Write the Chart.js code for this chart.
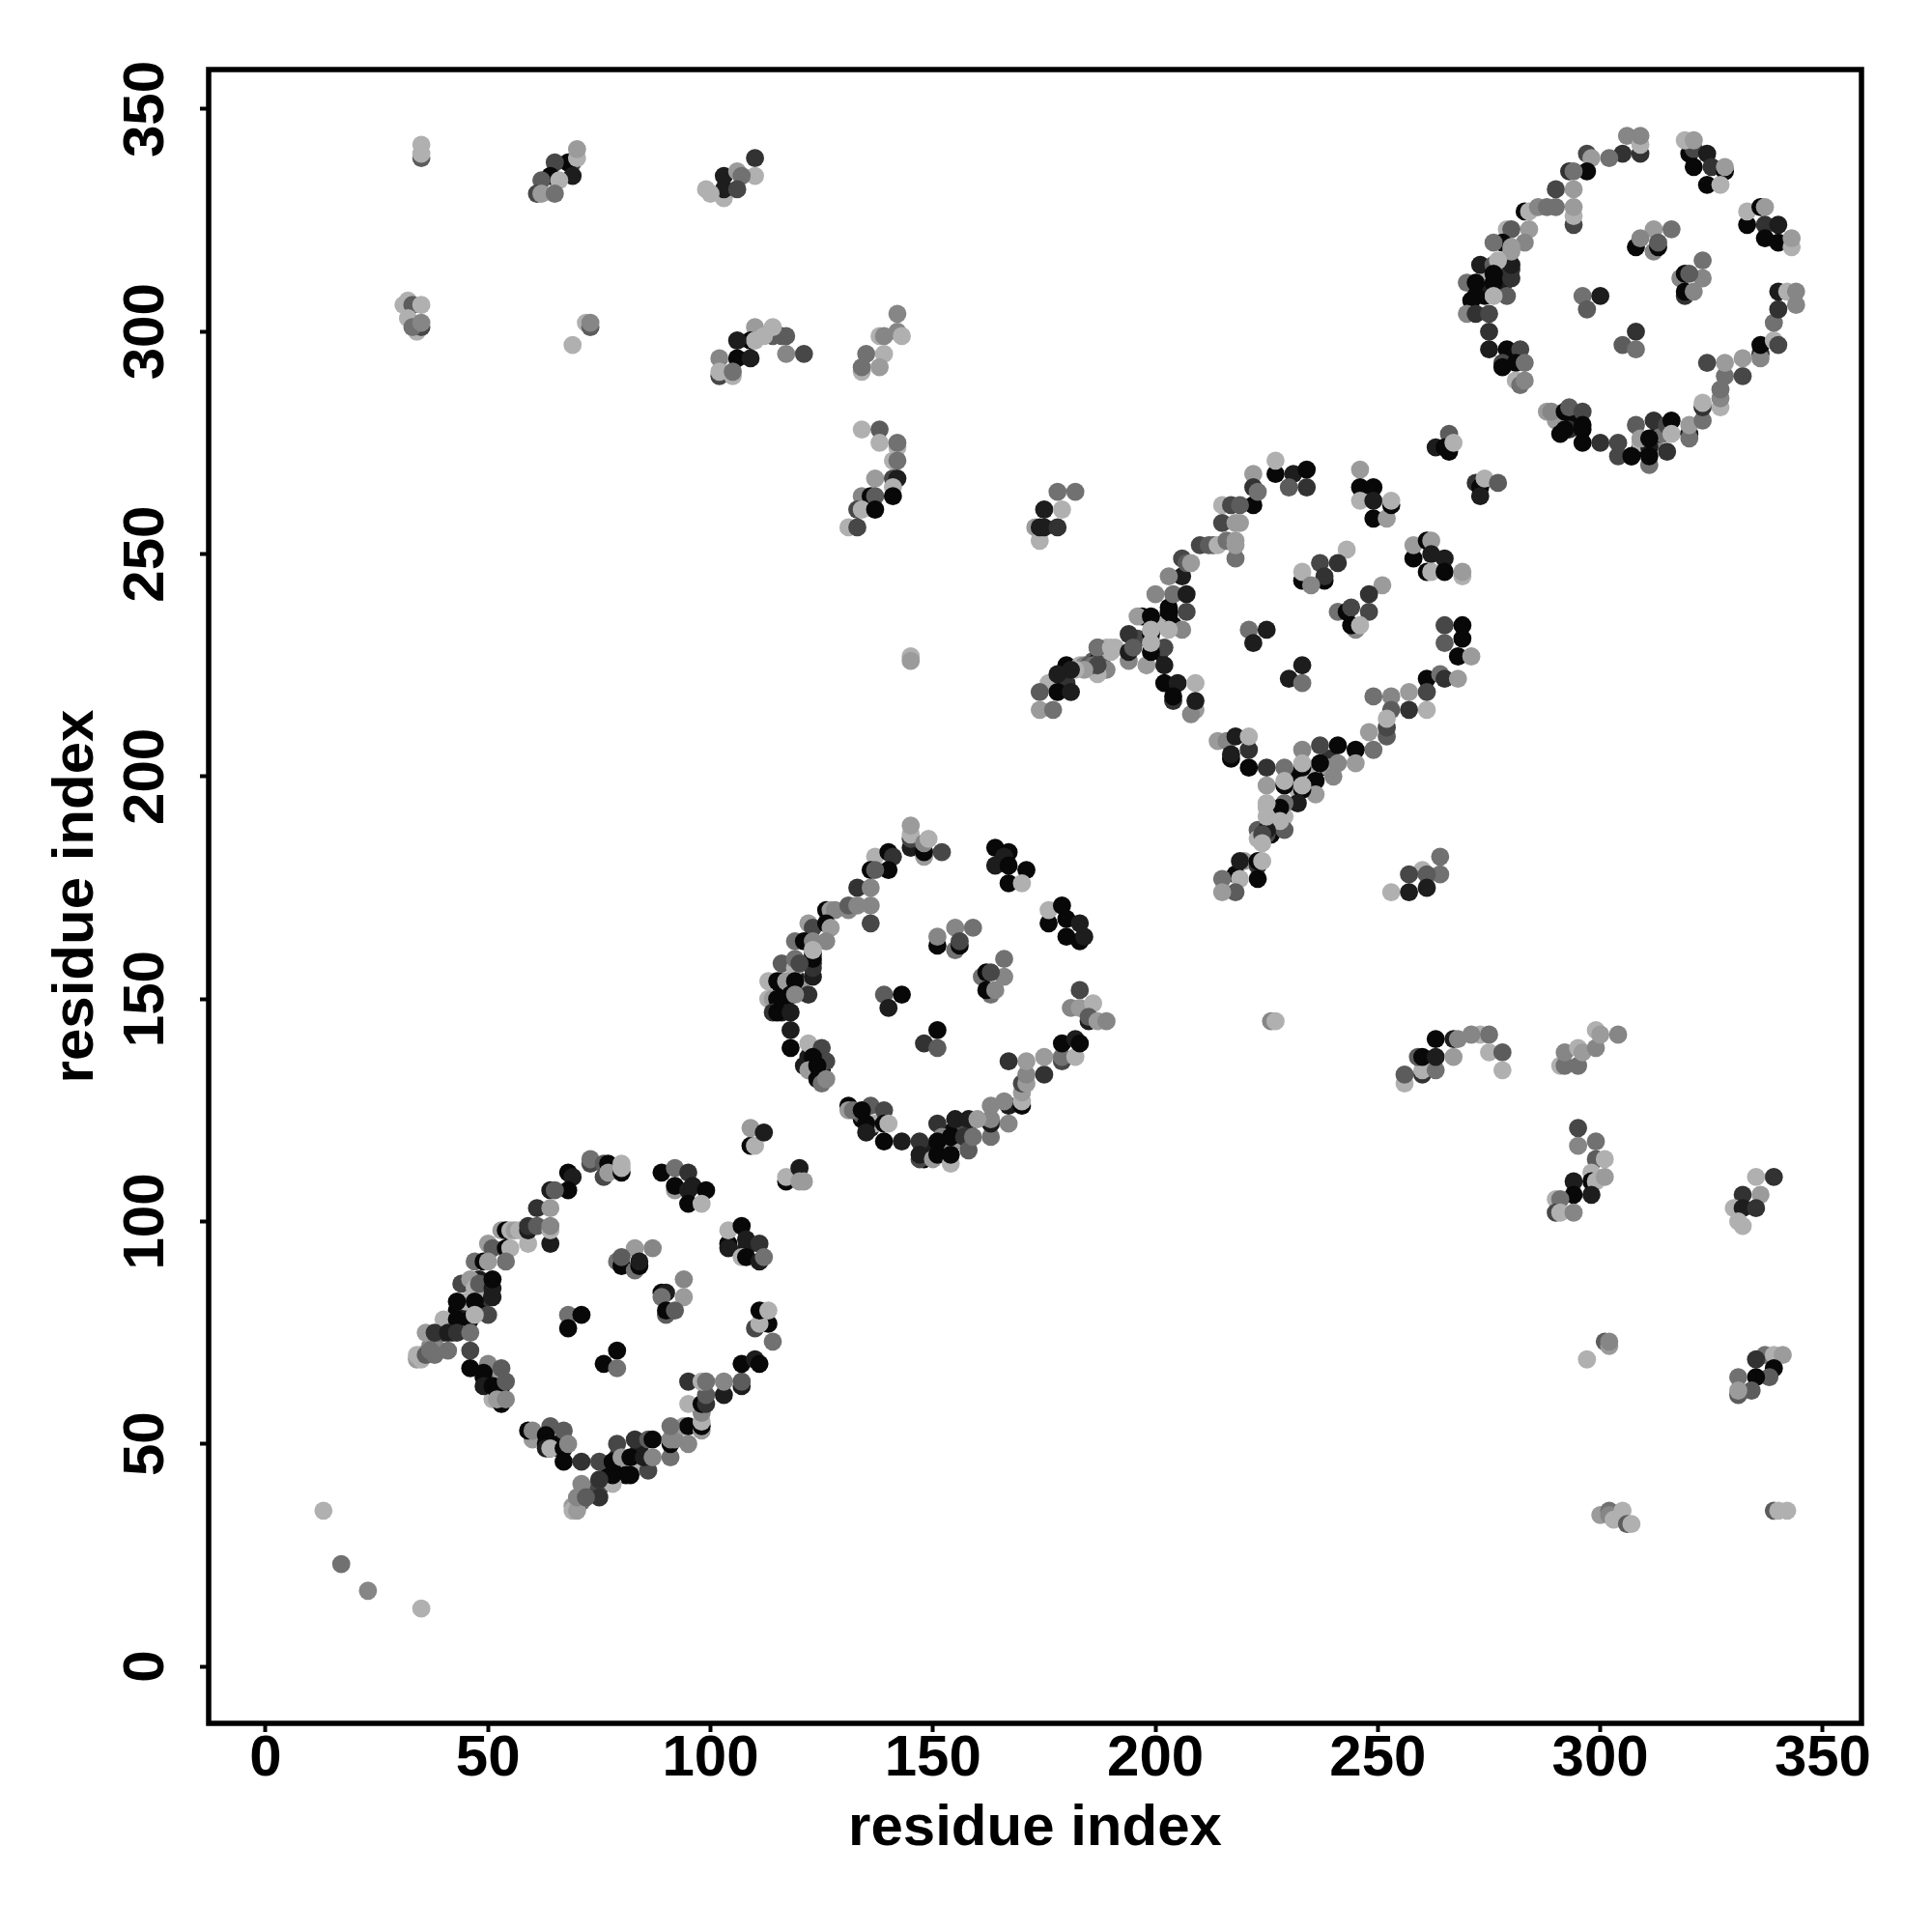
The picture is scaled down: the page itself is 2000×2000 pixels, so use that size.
<!DOCTYPE html>
<html><head><meta charset="utf-8">
<style>html,body{margin:0;padding:0;background:#fff}canvas{display:block}</style>
<script src="https://cdn.jsdelivr.net/npm/chart.js@4/dist/chart.umd.min.js"></script>
</head><body><canvas id="c" width="2000" height="2000"></canvas>
<script>
// Each contact: [residue x, residue y, shade score 0 (darkest) .. 9 (lightest)]
const tickValues=[0,50,100,150,200,250,300,350];
const axisTitle="residue index";
const corner=[[13,35,8],[17,23,5],[23,17,6],[35,13,8],[145,227,8],[145,226,7],[226,145,6],[227,145,8]];
// partly hidden contacts, drawn first
const under1=[[43,80,0],[45,80,1],[48,82,0],[50,83,2],[48,84,1],[47,84,8],[48,87,1],[50,86,2],[42,75,3],[40,75,2],[37,72,6],[38,72,5],[35,70,6],[39,71,6],[34,69,7],
[49,65,0],[50,63,1],[52,65,7],[51,60,8],[51,63,2],[61,52,3],[60,51,7],[64,49,1],[66,49,2],[66,50,0],
[79,47,2],[77,45,0],[80,45,7],[82,45,8],[84,49,1],[85,46,0],[84,45,8],[78,44,0],[81,43,0],[74,40,4],[71,37,5],[70,36,4],[69,36,7],[75,40,3]];
const under2=[[116,154,1],[117,152,7],[116,152,0],[113,150,8],[119,155,1],[120,153,7],[117,150,0],[123,160,1],[123,158,2],[116,147,1],
[122,137,1],[123,134,8],[125,134,0],[134,123,0],[136,121,1],[137,122,8],[134,124,4],
[149,115,0],[150,117,8],[153,119,2],[153,117,7],[155,118,7],[158,120,4],[154,120,0],[150,116,1],[148,114,0],[163,123,7]];
const under3=[[197,236,0],[203,238,0],[203,236,1],[201,234,8],[204,234,0],[199,231,8],[196,231,3],[201,228,1],
[176,221,8],[180,225,0],[180,221,2],[183,225,8],[184,225,6],[185,225,4],[186,226,4],[187,226,1],[188,225,4],[189,229,8],[190,228,8],[189,224,6],[187,229,5],[191,229,8],[187,223,8],
[223,188,4],[223,186,8],[226,190,7],[225,193,8],[227,190,8],[229,191,8],[226,187,0],[225,187,3],[220,181,7],[218,178,0],[223,180,2],
[232,200,0],[234,201,7],[237,202,0],[235,201,8],[231,199,0],[232,197,8],[234,198,8],[239,204,2],[239,202,7]];
const under4=[[271,307,0],[274,308,0],[274,311,1],[277,314,3],[279,312,1],[274,313,8],[278,310,1],
[309,274,0],[307,272,0],[309,275,8],[312,275,6],[313,277,1],[311,274,1],[314,277,5],
[293,281,0],[293,278,2],[290,280,7],[291,277,0],[296,278,0]];
const block1=[
[109,117,0],[110,117,8],[109,121,7],[112,120,1],[117,109,0],[117,110,8],[120,112,1],[120,109,7],[121,109,7],
[73,113,3],[73,114,5],[76,113,4],[76,110,3],[77,113,0],[77,111,7],[80,111,0],[80,113,8],[80,112,8],
[68,111,0],[69,110,1],[68,107,0],[64,107,1],[65,107,4],[61,103,2],[64,103,7],
[53,98,7],[54,98,0],[55,98,8],[56,98,7],[57,98,8],[59,95,8],[59,98,1],[59,99,2],[61,99,4],[64,95,1],[64,98,8],[64,99,6],
[50,95,7],[51,94,4],[54,94,0],[55,94,8],[47,91,5],[49,91,0],[54,91,5],[50,91,7],
[44,86,3],[46,87,7],[47,85,8],[48,86,4],[51,83,1],[51,85,1],[51,87,0],[50,79,3],
[45,82,8],[43,82,0],[47,82,0],[40,78,8],[43,78,0],[46,78,0],[47,79,8],
[36,75,7],[38,75,2],[41,75,1],[43,75,2],[46,75,5],[34,70,8],[35,69,8],[36,70,4],[37,71,5],[38,70,5],[41,71,5],
[46,71,3],[46,67,0],[50,68,6],[53,67,4],[49,66,0],[49,63,1],[51,63,0],[53,63,0],[54,64,4],[53,59,0],[52,60,7],[54,60,6],
[59,53,0],[60,53,6],[64,54,4],[67,53,4],[63,52,0],[63,50,0],[63,49,1],[64,49,8],[67,49,0],[68,50,6],[67,46,0],[71,46,2],[75,46,3],
[79,50,3],[83,51,2],[86,51,4],[87,51,0],[78,41,8],[78,43,0],[78,46,0],[82,43,0],[80,47,7],[82,47,0],[86,44,3],[85,47,1],[87,47,6],
[75,42,2],[75,38,2],[69,35,8],[70,35,7],[70,38,6],[71,41,6],[72,38,4],
[91,47,5],[91,50,0],[91,51,6],[95,50,6],[92,51,6],[94,54,7],[95,54,0],[91,54,5],
[98,53,7],[98,54,0],[98,55,8],[98,57,6],[95,59,8],[98,59,0],[99,59,2],[103,61,1],[99,61,4],[95,64,2],[98,64,8],[99,64,5],[103,64,6],[107,63,1],[107,64,4],
[107,68,0],[110,69,1],[111,68,0],[114,73,5],[113,77,0],[110,76,3],[111,77,8],[111,80,0],[113,80,8],
[83,94,7],[87,94,6],[79,91,5],[80,90,0],[80,92,4],[83,89,5],[84,90,0],[84,91,1],
[94,87,6],[94,83,7],[89,84,0],[90,84,1],[89,83,5],[90,79,4],[90,80,0],[92,80,4],
[68,79,5],[71,79,0],[68,76,0],[79,71,0],[76,68,0],[79,67,5],
[104,95,0],[104,94,1],[104,98,8],[107,99,0],[108,96,1],[108,94,1],[111,95,2],[107,92,8],[108,92,0],[111,91,1],[112,92,5],
[89,111,0],[92,112,5],[95,111,2],[92,107,7],[92,108,0],[95,107,1],[96,108,1],[99,107,0],[95,104,0],[98,104,8]];
const block2=[
[145,184,1],[145,186,3],[145,187,8],[145,189,7],[148,182,7],[148,183,0],[148,185,6],[149,186,8],[152,183,3],
[137,182,8],[140,183,0],[141,182,2],[140,179,0],[136,179,0],[137,179,4],[133,175,2],[136,175,6],[136,171,6],[136,167,3],
[126,170,0],[127,170,7],[128,170,6],[131,170,6],[131,171,4],[133,171,6],
[122,167,7],[123,166,3],[126,167,0],[127,166,7],[119,163,5],[121,163,0],[123,163,6],[126,163,6],
[123,155,1],[123,157,2],[123,159,0],[123,161,8],[122,151,2],[116,158,4],[119,157,8],[119,159,5],[120,158,3],
[113,154,8],[115,154,0],[117,154,7],[119,154,0],[114,150,7],[115,150,0],[118,151,0],[119,151,6],[114,147,2],[115,147,0],[118,147,1],
[118,143,1],[118,139,0],[122,140,8],[125,139,3],[126,136,3],[121,135,1],[123,137,0],[122,134,7],[124,135,0],[124,132,0],[125,131,5],[126,132,6],
[131,126,0],[131,125,7],[132,125,5],[136,126,4],[139,125,3],[134,125,0],[135,122,0],[135,120,1],[139,122,0],[140,122,8],[139,118,0],[143,118,1],[147,118,2],
[151,122,2],[157,122,3],[155,123,1],[158,123,1],[147,114,3],[147,115,1],[150,114,7],[152,119,6],[151,118,0],[151,115,0],[154,113,8],[154,115,0],[154,119,0],[157,119,2],[158,116,4],[159,119,5],
[163,119,5],[163,122,1],[163,123,6],[167,122,6],[160,123,7],[163,126,6],[167,126,1],[166,127,6],
[170,126,0],[170,127,8],[170,129,7],[170,131,3],[171,131,7],[171,133,6],[171,136,7],[175,133,2],[175,137,7],[167,136,2],
[179,136,3],[179,137,5],[182,137,8],[179,140,0],[182,141,1],[183,140,0],
[183,152,3],[181,148,6],[183,148,7],[186,149,8],[185,145,1],[185,146,4],[187,145,7],[189,145,6],
[164,184,0],[167,183,0],[166,182,1],[164,180,1],[167,180,0],[171,179,0],[167,176,0],[170,176,8],
[176,167,0],[176,170,8],[179,171,0],[180,168,0],[183,167,1],[180,164,0],[183,163,0],[184,164,1],
[155,166,6],[159,166,5],[151,162,0],[151,164,6],[155,161,5],[156,162,0],[156,163,3],
[166,159,5],[166,155,6],[161,155,5],[162,156,0],[163,156,3],[163,151,5],[162,152,0],[164,152,6],
[139,151,4],[143,151,0],[140,148,1],[151,143,0],[148,140,2],[151,139,4]];
const block3=[
[178,264,5],[182,264,5],[175,260,1],[179,260,8],[173,256,7],[174,253,8],[174,256,1],[175,256,1],[178,256,2],
[222,268,7],[227,268,0],[227,271,8],[231,268,1],[234,269,0],[230,265,4],[234,265,2],
[222,261,0],[222,265,2],[223,264,5],[215,261,8],[217,261,3],[219,261,4],[215,257,3],[218,257,7],[219,257,7],
[218,249,5],[210,252,3],[212,252,4],[213,252,4],[214,252,8],[216,253,5],[218,252,7],[218,253,7],
[206,245,1],[203,245,6],[206,249,3],[207,248,4],[208,248,7],
[200,241,6],[204,241,5],[207,241,1],[207,237,3],[203,237,0],[206,233,6],[203,233,8],[202,229,3],[202,225,1],[198,225,7],[202,221,0],
[196,236,7],[199,236,0],[199,232,0],[199,233,8],[199,228,0],[199,230,8],[194,232,2],[194,226,6],[194,228,1],[195,229,4],
[187,229,5],[190,229,8],[186,225,5],[187,225,3],[184,224,7],[182,224,8],[181,224,1],[178,223,1],[178,219,0],[181,219,1],[174,219,4],[174,215,7],[177,215,5],
[205,221,1],[209,221,8],[204,217,2],[204,218,0],[209,215,7],[208,214,6],[209,217,1],
[246,269,7],[246,265,0],[249,265,0],[246,262,8],[249,262,1],[249,258,0],[252,258,7],[253,261,0],[253,262,8],
[258,249,0],[258,252,7],[261,253,0],[262,253,7],[262,250,1],[265,249,1],[261,246,0],[262,246,8],[265,246,0],[269,245,8],[269,246,7],
[265,234,3],[269,234,0],[265,230,4],[269,231,0],[268,227,0],[271,227,7],
[261,222,0],[264,223,5],[265,222,2],[268,222,7],[261,215,8],[261,219,3],[257,219,7],[257,215,2],[253,218,6],[249,218,5],[253,215,4],
[252,209,4],[252,211,3],[252,213,8],[248,210,7],[249,206,5],[245,206,0],[245,203,7],[241,207,0],
[233,206,6],[237,207,3],[241,203,6],[237,203,0],[236,199,0],[236,196,7],[240,200,6],[233,202,0],[233,203,8],[229,202,5],[225,202,2],[221,202,0],[221,206,2],[225,198,7],
[229,198,0],[229,199,8],[233,197,0],[233,198,8],[232,194,1],[229,194,5],[228,193,0],[225,194,8],
[214,208,7],[216,208,6],[217,204,0],[217,205,1],[218,209,1],[221,209,8],
[229,188,4],[228,190,8],[225,188,1],[225,191,8],[224,187,3],[224,185,8],[223,181,0],[224,181,8],[219,181,1],[223,177,0],[219,177,8],[215,177,5],[218,174,4],[215,174,7],
[243,251,8],[241,248,2],[237,248,3],[233,244,0],[233,246,8],[238,244,0],[238,245,2],[235,243,6],
[251,243,7],[248,241,2],[248,237,3],[241,237,5],[243,237,0],[244,238,3],[245,233,6],[244,234,0],[246,234,8],
[221,233,5],[225,233,1],[222,230,1],[233,225,1],[230,222,1],[233,221,5],
[264,182,5],[264,178,5],[260,179,8],[261,178,4],[257,178,3],[253,174,8],[257,174,1],[261,175,1]];
const block4=[
[306,344,6],[309,340,2],[309,342,8],[309,344,6],[305,340,2],[302,339,5],[297,340,3],[298,339,7],[297,336,0],[293,336,2],[294,336,5],[290,332,3],[294,332,7],
[294,324,3],[294,326,8],[294,328,7],[283,327,0],[284,327,8],[286,328,6],[288,328,5],[290,328,5],
[284,323,7],[279,323,8],[280,323,4],[278,320,0],[283,320,6],[280,319,7],[276,320,5],
[280,312,2],[280,314,2],[280,315,1],[280,318,7],[279,308,4],[273,315,1],[276,315,4],[277,316,8],[276,313,0],[276,311,0],[270,311,5],[272,311,0],[276,308,8],[272,308,0],[270,304,6],[272,304,2],[275,304,3],[275,300,2],[275,296,1],
[279,296,0],[282,296,3],[278,293,3],[278,292,0],[281,293,0],[283,293,5],[281,289,8],[282,288,5],[283,289,6],
[288,282,7],[289,282,6],[292,282,0],[293,283,4],[296,282,3],[292,278,0],[296,279,0],[296,275,0],[300,275,2],[304,275,3],[304,272,3],[308,279,4],[312,280,2],[315,279,3],[316,280,0],
[307,272,0],[309,276,7],[311,270,5],[311,272,0],[311,276,0],[315,273,2],[316,277,8],[320,277,1],[320,276,5],[320,279,7],[323,280,5],[323,283,2],[323,284,8],
[327,283,8],[327,285,6],[327,287,5],[328,290,5],[328,293,7],[324,293,3],[332,290,3],[332,294,7],[336,295,2],[336,294,6],[336,297,0],[339,298,8],[340,297,3],[339,302,5],[340,305,2],[340,309,1],[342,309,8],[344,306,6],[344,309,6],
[320,340,0],[321,341,3],[319,343,8],[321,343,7],[324,340,1],[321,337,0],[325,337,2],[328,336,0],[328,337,7],[324,333,0],[327,333,8],
[333,324,0],[333,327,8],[336,328,0],[337,328,7],[337,324,2],[340,324,1],[337,321,0],[340,320,0],[343,319,8],[343,321,7],
[312,323,7],[316,323,5],[308,319,0],[309,321,6],[312,318,6],[313,319,0],[313,320,4],
[323,316,5],[323,312,6],[318,312,6],[319,313,0],[320,313,4],[319,308,2],[319,309,0],[321,309,6],
[296,308,5],[300,308,1],[297,305,4],[308,300,2],[305,297,4],[308,296,5],
[266,277,4],[263,274,1],[266,273,0],[265,274,0],[267,275,8],[272,266,2],[273,265,0],[273,263,1],[274,267,8],[277,266,4]];
const upperLeft=[
[35,339,4],[35,340,8],[35,342,8],
[69,338,3],[68,338,0],[70,339,8],[70,341,7],[65,338,3],[64,335,0],[69,335,1],[66,334,8],[62,334,4],[61,331,3],[62,331,7],[65,331,5],
[110,339,2],[110,335,8],[103,335,1],[106,336,7],[107,335,5],[103,330,8],[103,332,1],[106,332,3],[99,332,8],[100,331,8],
[31,306,8],[32,307,8],[33,306,4],[35,306,8],[32,303,8],[34,300,8],[35,301,3],[33,301,5],[35,302,6],
[72,302,8],[73,301,4],[73,302,6],[69,297,8],
[121,295,3],[117,295,6],[116,299,4],[117,299,4],[114,299,4],[114,301,8],[110,301,7],[109,298,0],[110,298,8],[112,299,8],[106,298,1],[106,294,0],[109,294,1],[102,294,6],[102,290,3],[102,291,8],[105,290,8],[105,291,5],
[142,304,6],[138,299,8],[139,299,6],[142,300,6],[143,299,8],[135,295,5],[139,295,8],[134,291,8],[134,292,5],[138,292,7],
[134,278,8],[138,278,4],[138,275,8],[142,274,8],[142,275,5],[141,271,8],[142,271,5],[137,267,7],[141,267,3],[142,267,1],[141,265,8],
[134,263,6],[136,263,0],[137,263,4],[141,263,0],[133,260,3],[134,260,8],[137,260,0],[131,256,8],[133,256,3]];
const lowerRight=[
[256,131,8],[256,133,4],[260,133,2],[260,134,8],[263,134,5],[259,137,4],[260,137,0],[263,137,1],[263,141,0],[267,141,1],[267,137,7],[268,141,6],[273,142,8],[271,142,6],[275,142,5],[275,138,8],[278,138,4],[278,134,8],
[291,135,8],[292,135,5],[295,135,5],[292,138,6],[295,139,8],[296,138,7],[299,139,6],[299,143,8],[300,142,7],[304,142,6],
[295,121,3],[295,117,6],[299,118,5],[299,114,4],[301,114,8],[294,109,1],[298,111,8],[298,109,0],[299,109,8],[301,110,7],[294,106,0],[298,106,1],[290,105,8],[291,105,5],[290,102,3],[291,102,8],[294,102,6],
[339,110,2],[335,110,8],[332,106,2],[336,106,7],[330,103,8],[332,103,1],[335,103,2],[331,100,8],[332,99,8],
[297,69,8],[301,73,4],[302,72,7],[302,73,6],
[337,70,5],[339,70,8],[341,70,7],[335,69,2],[339,67,0],[338,65,4],[335,65,0],[331,65,5],[334,62,4],[331,61,4],[331,62,7],
[300,34,7],[302,35,5],[302,34,6],[303,33,8],[305,35,8],[306,32,4],[307,32,8],
[339,35,4],[340,35,8],[342,35,8]];

const contacts=[...corner,...under1,...under2,...under3,...under4,...block1,...block2,...block3,...block4,...upperLeft,...lowerRight];
const shadeOf=s=>{const g=Math.round(8+s*21);return `rgb(${g},${g},${g})`;};
const noPad=s=>{s.paddingLeft=s.paddingRight=s.paddingTop=s.paddingBottom=0;};
const frame={id:'frame',afterDraw(ch){const a=ch.chartArea,c=ch.ctx;c.save();c.strokeStyle='#000';c.lineWidth=5.5;c.lineJoin='miter';c.strokeRect(a.left,a.top,a.right-a.left,a.bottom-a.top);c.restore();}};
const font=size=>({family:'"Liberation Sans",Arial,sans-serif',weight:'bold',size});
const gridOpts={drawOnChartArea:false,drawTicks:true,tickLength:9,tickWidth:4,tickColor:'#000'};
new Chart(document.getElementById('c'),{
 type:'scatter',
 data:{datasets:[{data:contacts.map(p=>({x:p[0],y:p[1]})),pointBackgroundColor:contacts.map(p=>shadeOf(p[2])),pointBorderWidth:0,pointRadius:9.4,pointHoverRadius:9.4}]},
 options:{responsive:false,animation:false,devicePixelRatio:1,
  layout:{padding:{top:72,right:73,left:0,bottom:0}},
  plugins:{legend:{display:false},tooltip:{enabled:false},title:{display:false}},
  scales:{
   x:{type:'linear',min:-12.8,max:358.7,border:{display:false},grid:gridOpts,
    afterBuildTicks:s=>{s.ticks=tickValues.map(v=>({value:v}));},
    afterFit:s=>{s.height=216;noPad(s);},
    ticks:{color:'#000',font:font(60),padding:-8,autoSkip:false,maxRotation:0,minRotation:0,callback:v=>String(v)},
    title:{display:true,text:axisTitle,color:'#000',font:font(60),padding:{top:0,bottom:71}}},
   y:{type:'linear',min:-12.8,max:358.9,border:{display:false},grid:gridOpts,
    afterBuildTicks:s=>{s.ticks=tickValues.map(v=>({value:v}));},
    afterFit:s=>{s.width=216;noPad(s);},
    ticks:{color:'#000',font:font(60),padding:4,autoSkip:false,minRotation:90,maxRotation:90,crossAlign:'center',callback:v=>String(v)},
    title:{display:true,text:axisTitle,color:'#000',font:font(60),padding:{top:43,bottom:0}}}
  }},
 plugins:[frame]
});
</script></body></html>
